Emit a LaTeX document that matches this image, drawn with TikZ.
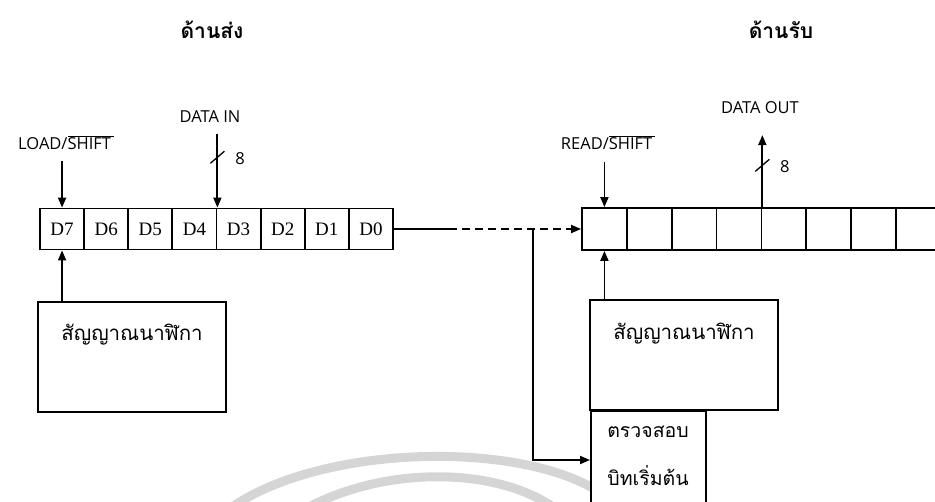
\documentclass[tikz,border=0pt]{standalone}
\usepackage{fontspec}
\setmainfont{Liberation Serif}
\newfontfamily\thai[Script=Thai]{Loma}
\newfontfamily\labf{Open Sans}
\usetikzlibrary{arrows.meta}
\begin{document}
\begin{tikzpicture}[x=1pt,y=-1pt,line width=1.8pt,
  cell/.style={draw,fill=white,minimum width=44.1pt,minimum height=41pt,inner sep=0pt,font=\fontsize{19}{19}\selectfont},
  rcell/.style={draw,fill=white,minimum width=44.86pt,minimum height=42pt,inner sep=0pt},
  box/.style={draw,fill=white,inner sep=0pt},
  lab/.style={font=\labf\fontsize{16.5}{16.5}\selectfont,inner sep=0pt},
  title/.style={font=\thai\bfseries\fontsize{21}{21}\selectfont,inner sep=0pt},
  thtext/.style={font=\thai\fontsize{20.5}{20.5}\selectfont,inner sep=0pt},
  arr/.style={-{Triangle[length=10pt,width=8pt]}},
  slash/.style={line width=1.3pt},
  wm/.style={draw=gray!33,line width=9pt}]
\useasboundingbox (0,0) rectangle (935,501);
\clip (0,0) rectangle (935,501);
% watermark arcs
\draw[wm] (225,512) .. controls (320,440) and (540,440) .. (610,500);
\draw[wm] (300,512) .. controls (380,465) and (500,465) .. (560,512);
% titles
\node[title] (tsend) at (212,30) {ด้านส่ง};
\node[title] (trecv) at (781,30) {ด้านรับ};
% left register
\foreach \i/\n in {0/7,1/6,2/5,3/4,4/3,5/2,6/1,7/0}
  \node[cell] (d\n) at ({40+44.125*(\i+0.5)},229) {D\n};
% right register
\foreach \i in {0,...,8}
  \node[rcell] (r\i) at ({582+44.86*(\i+0.5)},229) {};
% labels
\node[lab] (load) at (66,143) {LOAD/$\overline{\mbox{SHIFT\,}}$};
\node[lab] (din) at (210,117) {DATA IN};
\node[lab] (read) at (608,143) {READ/$\overline{\mbox{SHIFT\,}}$};
\node[lab] (dout) at (760,108) {DATA OUT};
% control arrows
\draw[arr] ([yshift=47pt]d7.north) -- (d7.north);
\draw[arr] ([yshift=45pt]r0.north) -- (r0.north);
\draw[arr] ([yshift=74pt]d4.north east) -- coordinate[pos=0.32] (dinm) (d4.north east);
\draw[slash] ([shift={(-7pt,-6pt)}]dinm) -- ([shift={(7pt,6pt)}]dinm);
\node[lab,anchor=west] (din8) at ([xshift=17pt,yshift=-1pt]dinm) {8};
\draw[arr] (r3.north east) -- coordinate[pos=0.58] (doutm) ([yshift=72pt]r3.north east);
\draw[slash] ([shift={(-7pt,-6pt)}]doutm) -- ([shift={(7pt,6pt)}]doutm);
\node[lab,anchor=west] (dout8) at ([xshift=17pt,yshift=-1pt]doutm) {8};
% clock boxes
\node[box,minimum width=188pt,minimum height=110pt] (lclk) at (132,357) {};
\node[thtext] (lclkt) at ([yshift=-33pt]lclk.north) {สัญญาณนาฬิกา};
\node[box,minimum width=188pt,minimum height=110pt] (rclk) at (684,355) {};
\node[thtext] (rclkt) at ([yshift=-34pt]rclk.north) {สัญญาณนาฬิกา};
\draw[arr] (lclk.north -| d7.south) -- (d7.south);
\draw[arr] (rclk.north -| r0.south) -- (r0.south);
% start-bit check box
\node[box,anchor=north west,minimum width=115pt,minimum height=120pt] (chk) at (590,410) {};
\node[thtext,align=center,font=\thai\fontsize{19.5}{48}\selectfont] (chkt) at (648,456) {ตรวจสอบ\\บิทเริ่มต้น};
% serial line
\coordinate (sb) at (457,229);
\coordinate (br) at (533,229);
\draw (d0.east) -- (sb);
\draw[arr,dash pattern=on 8pt off 5pt] ([xshift=5pt]sb) -- (r0.west);
\draw[arr] (br) |- ([yshift=-50pt]chk.north west);
\end{tikzpicture}
\end{document}
